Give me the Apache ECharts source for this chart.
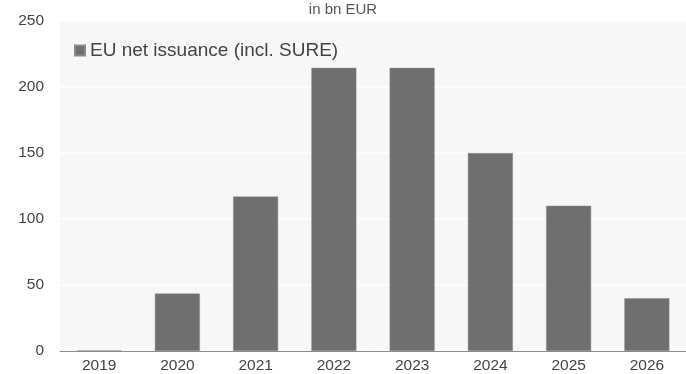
<!DOCTYPE html>
<html><head><meta charset="utf-8">
<script src="https://cdn.jsdelivr.net/npm/echarts@6/dist/echarts.min.js"></script>
<style>html,body{margin:0;padding:0;background:#fff}#c{width:686px;height:374px}</style>
</head><body><div id="c"></div>
<script>
var categories = ['2019','2020','2021','2022','2023','2024','2025','2026'];
var issuance = [0.4, 43.5, 117, 214.5, 214.5, 150, 110, 40];
var yTicks = [0, 50, 100, 150, 200, 250];
var seriesName = 'EU net issuance (incl. SURE)';
var titleText = 'in bn EUR';

var chart = echarts.init(document.getElementById('c'), null, {renderer:'canvas'});
chart.setOption({
  animation:false,
  backgroundColor:'#ffffff',
  title:{text:titleText,left:'center',top:-3,textStyle:{fontFamily:'Liberation Sans',fontSize:15,fontWeight:'normal',color:'#555'}},
  legend:{left:69,top:36,itemWidth:10,itemHeight:10,itemGap:5,icon:'rect',
    textStyle:{fontFamily:'Liberation Sans',fontSize:19,color:'#444'},data:[seriesName]},
  grid:{left:60,right:-5,top:21,bottom:21,show:true,backgroundColor:'#f7f7f7',borderWidth:0},
  xAxis:{type:'category',data:categories,axisTick:{show:false},
    axisLine:{lineStyle:{color:'#8c8c8c',width:1}},
    axisLabel:{fontFamily:'Liberation Sans',fontSize:15.5,color:'#444',margin:7}},
  yAxis:{type:'value',min:0,max:250,interval:50,
    axisLabel:{fontFamily:'Liberation Sans',fontSize:15.5,color:'#444',margin:16,
      formatter:function(v){return yTicks.indexOf(v)>=0?String(v):'';}},
    axisLine:{show:false},axisTick:{show:false},
    splitLine:{lineStyle:{color:'#ffffff',width:1.5}}},
  series:[{name:seriesName,type:'bar',data:issuance,barWidth:45,
    itemStyle:{color:'#6f6f6f',borderColor:'#8a8a8a',borderWidth:0.5}}]
});
</script></body></html>
